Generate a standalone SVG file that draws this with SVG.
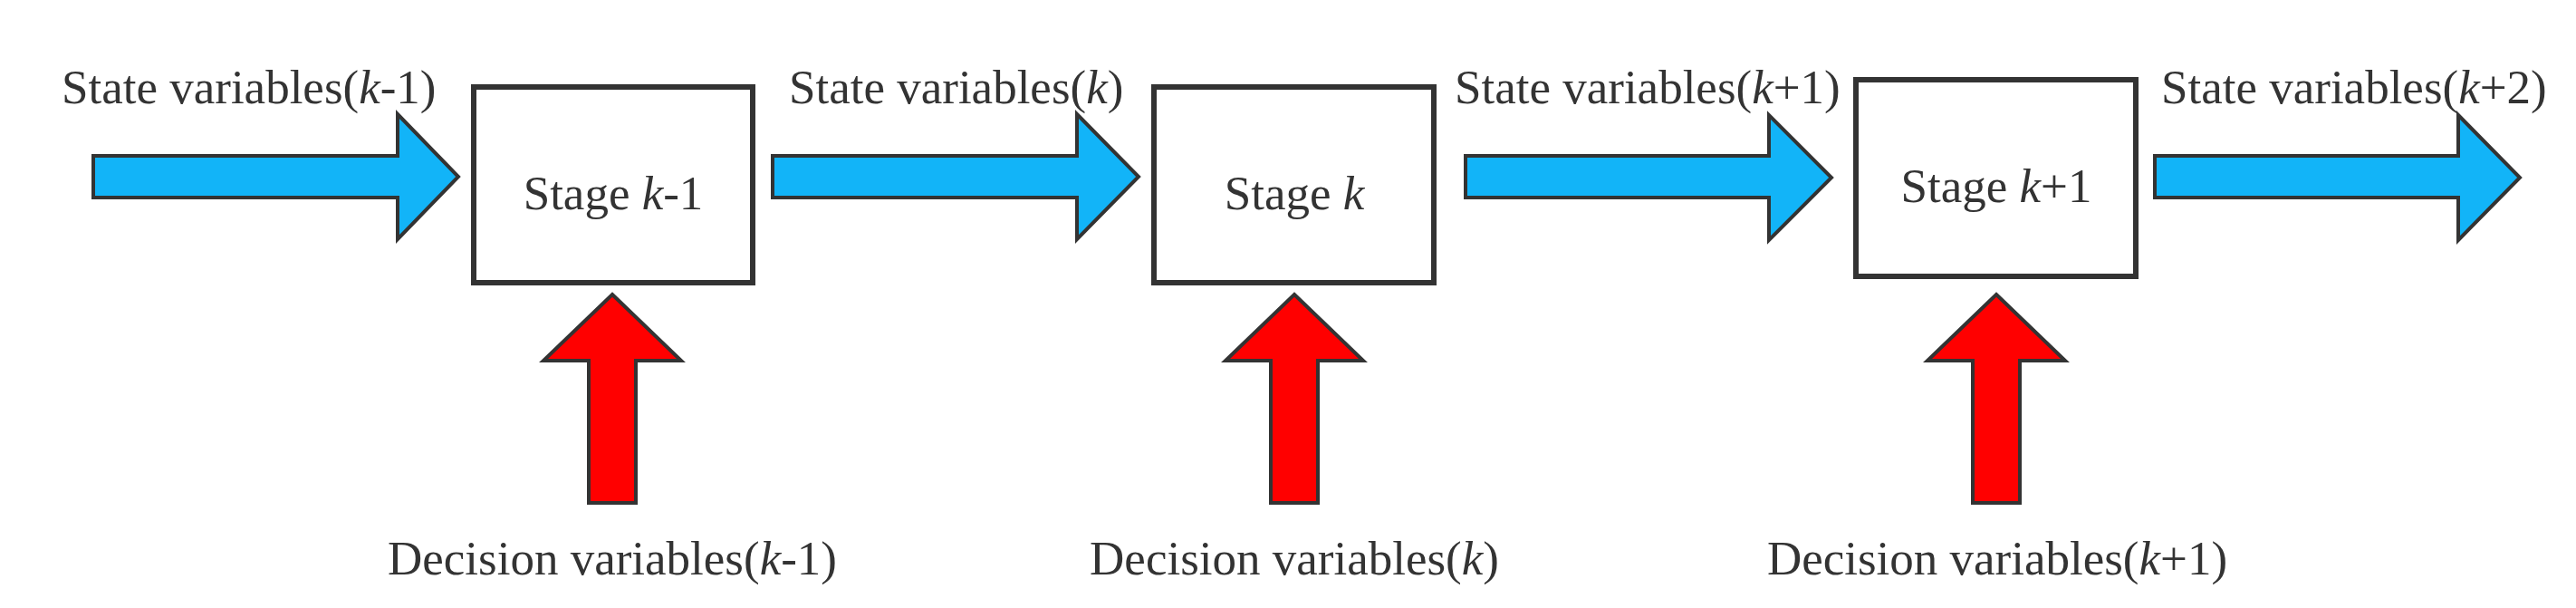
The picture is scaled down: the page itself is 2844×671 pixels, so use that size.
<svg xmlns="http://www.w3.org/2000/svg" width="2844" height="671" viewBox="0 0 2844 671">
<style>
.box{fill:#ffffff;stroke:#333333;stroke-width:6}
.state{fill:#12B4F8;stroke:#333333;stroke-width:4;stroke-linejoin:miter}
.dec{fill:#FF0000;stroke:#333333;stroke-width:4;stroke-linejoin:miter}
text{font-family:"Liberation Serif","Times New Roman",serif;font-size:53px;fill:#333333}
.c{text-anchor:middle}
.i{font-style:italic}
</style>
<rect width="2844" height="671" fill="#ffffff"/>
<g id="connectors">
<g id="state-k-1">
<path class="state" d="M103,172 H439 V126 L506,195 L439,264 V218 H103 Z"/>
<text x="68" y="114">State variables(<tspan class="i">k</tspan>-1)</text>
</g>
<g id="state-k">
<path class="state" d="M853,172 H1189 V126 L1257,195 L1189,264 V218 H853 Z"/>
<text x="871" y="114">State variables(<tspan class="i">k</tspan>)</text>
</g>
<g id="state-k+1">
<path class="state" d="M1618,172 H1953 V127 L2022,196 L1953,265 V218 H1618 Z"/>
<text x="1606" y="114">State variables(<tspan class="i">k</tspan>+1)</text>
</g>
<g id="state-k+2">
<path class="state" d="M2379,172 H2714 V127 L2782,196 L2714,265 V218 H2379 Z"/>
<text x="2386" y="114">State variables(<tspan class="i">k</tspan>+2)</text>
</g>
<g id="decision-k-1">
<path class="dec" d="M676,325 L752,398 H702 V555 H650 V398 H600 Z"/>
<text class="c" x="676" y="634">Decision variables(<tspan class="i">k</tspan>-1)</text>
</g>
<g id="decision-k">
<path class="dec" d="M1429,325 L1505,398 H1455 V555 H1403 V398 H1353 Z"/>
<text class="c" x="1429" y="634">Decision variables(<tspan class="i">k</tspan>)</text>
</g>
<g id="decision-k+1">
<path class="dec" d="M2204,325 L2280,398 H2230 V555 H2178 V398 H2128 Z"/>
<text class="c" x="2205" y="634">Decision variables(<tspan class="i">k</tspan>+1)</text>
</g>
</g>
<g id="stage-k-1">
<rect class="box" x="523" y="96" width="308" height="216"/>
<text class="c" x="677" y="231">Stage <tspan class="i">k</tspan>-1</text>
</g>
<g id="stage-k">
<rect class="box" x="1274" y="96" width="309" height="216"/>
<text class="c" x="1429" y="231">Stage <tspan class="i">k</tspan></text>
</g>
<g id="stage-k+1">
<rect class="box" x="2049" y="88" width="309" height="217"/>
<text class="c" x="2204" y="223">Stage <tspan class="i">k</tspan>+1</text>
</g>
</svg>
